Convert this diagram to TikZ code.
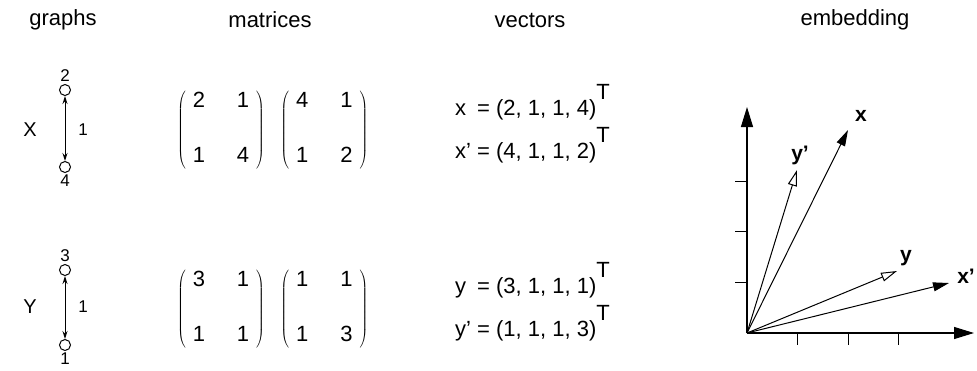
\documentclass[tikz,border=0pt]{standalone}
\usepackage{fontspec}
\setmainfont{Liberation Sans}
\usetikzlibrary{arrows.meta,positioning}
\newcommand{\Tsup}{\raisebox{0.72em}{T}}
\newcommand{\mtwo}[4]{$\left(\begin{tabular}{@{\hspace{7pt}}c@{\hspace{32pt}}c@{\hspace{7pt}}}#1&#2\\[29pt]#3&#4\end{tabular}\right)$}

\begin{document}
\begin{tikzpicture}[x=1pt,y=-1pt,
  hd/.style={font=\fontsize{22}{26}\selectfont},
  glbl/.style={font=\fontsize{17}{20}\selectfont,inner sep=1pt},
  gname/.style={font=\fontsize{20}{24}\selectfont,inner sep=1pt},
  vtx/.style={circle,draw,line width=1pt,minimum size=11pt,inner sep=0pt},
  mat/.style={font=\fontsize{22}{26}\selectfont,inner sep=0pt},
  vec/.style={font=\fontsize{22}{26}\selectfont,anchor=base west,inner sep=0pt},
  emb/.style={font=\bfseries\fontsize{21}{25}\selectfont,inner sep=1pt},
  edge/.style={line width=1pt,{Stealth[length=8pt,width=5pt]}-{Stealth[length=8pt,width=5pt]}},
  axis/.style={line width=1.2pt,-{Triangle[length=20pt,width=12pt]}},
  fvec/.style={line width=1pt,-{Triangle[length=16pt,width=9pt]}},
  ovec/.style={line width=1pt,-{Triangle[open,length=16pt,width=9pt,fill=white]}}]
\useasboundingbox (0,0) rectangle (977,370);

% column heads
\node[hd] (hg) at (63,20)  {graphs};
\node[hd] (hm) at (270,20) {matrices};
\node[hd] (hv) at (530,20) {vectors};
\node[hd] (he) at (855,20) {embedding};

% graphs
\node[vtx] (x2) at (65,90)  {};
\node[vtx] (x4) at (65,167) {};
\node[glbl,above=1pt of x2] {2};
\node[glbl,below=1pt of x4] {4};
\draw[edge] (x2) -- (x4);
\node[gname] (lx) at (30,130) {X};
\node[glbl]  (wx) at (83,130) {1};

\node[vtx] (y3) at (65,270) {};
\node[vtx] (y1) at (65,345) {};
\node[glbl,above=1pt of y3] {3};
\node[glbl,below=1pt of y1] {1};
\draw[edge] (y3) -- (y1);
\node[gname] (ly) at (30,307) {Y};
\node[glbl]  (wy) at (83,307) {1};

% matrices
\node[mat] (mx1) at (221,130) {\mtwo{2}{1}{1}{4}};
\node[mat,right=15pt of mx1] (mx2) {\mtwo{4}{1}{1}{2}};
\node[mat] (my1) at (221,309) {\mtwo{3}{1}{1}{1}};
\node[mat,right=15pt of my1] (my2) {\mtwo{1}{1}{1}{3}};

% vectors
\node[vec] (vx)  at (455,115) {x\phantom{'} = (2, 1, 1, 4)\Tsup};
\node[vec] (vxp) at (455,158) {x' = (4, 1, 1, 2)\Tsup};
\node[vec] (vy)  at (455,293) {y\phantom{'} = (3, 1, 1, 1)\Tsup};
\node[vec] (vyp) at (455,336) {y' = (1, 1, 1, 3)\Tsup};

% embedding
\coordinate (o)    at (747,333);
\coordinate (ytop) at (747,107);
\coordinate (xend) at (974,333);
\draw[axis] (o) -- (ytop);
\draw[axis] (o) -- (xend);
\foreach \k in {1,2,3} {
  \draw[line width=1pt] (747,333-50.6*\k) -- ++(-12,0);
  \draw[line width=1pt] (747+50.6*\k,333) -- ++(0,12);
}
\coordinate (tx)  at (848,130);
\coordinate (typ) at (797,170);
\coordinate (ty)  at (897,271);
\coordinate (txp) at (949,283);
\draw[fvec] (o) -- (tx);
\draw[ovec] (o) -- (typ);
\draw[ovec] (o) -- (ty);
\draw[fvec] (o) -- (txp);
\node[emb] (ex)  at (861,116) {x};
\node[emb] (eyp) at (800,155) {y'};
\node[emb] (ey)  at (906,258) {y};
\node[emb] (exp) at (966,276) {x'};
\end{tikzpicture}
\end{document}
